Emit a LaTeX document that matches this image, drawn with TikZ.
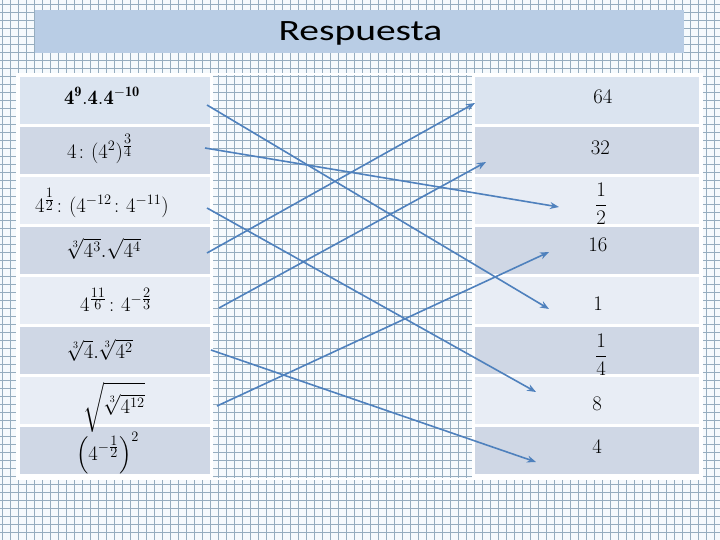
\documentclass[tikz,border=0pt]{standalone}
\usepackage{amsmath}
\usepackage{fontspec}
\newfontfamily\titlefont[FakeStretch=1.34]{Carlito}
\usetikzlibrary{arrows.meta}
\definecolor{gridc}{RGB}{150,173,191}
\definecolor{pagebg}{RGB}{246,250,253}
\definecolor{titlebg}{RGB}{185,205,229}
\definecolor{rowA}{RGB}{219,228,240}
\definecolor{rowB}{RGB}{207,215,229}
\definecolor{rowC}{RGB}{232,237,245}
\definecolor{arrowc}{RGB}{79,129,189}
\begin{document}
\begin{tikzpicture}[x=1pt,y=-1pt,
  cellL/.style={minimum width=190pt,minimum height=47pt,inner sep=0pt,draw=none},
  cellR/.style={minimum width=224pt,minimum height=47pt,inner sep=0pt,draw=none},
  txt/.style={inner sep=0pt,font=\fontsize{20.5}{24}\selectfont},
  link/.style={arrowc,line width=1.6pt,-{Stealth[length=9pt,width=7pt]}}]
\useasboundingbox (0,0) rectangle (720,540);
\fill[pagebg] (0,0) rectangle (720,540);
\foreach \x in {2.5,10.5,...,720} \draw[gridc,line width=1.1pt] (\x,0) -- (\x,540);
\foreach \y in {4.5,12.5,...,540} \draw[gridc,line width=1.1pt] (0,\y) -- (720,\y);
% title
\node[fill=titlebg,minimum width=649pt,minimum height=43pt,inner sep=0pt,anchor=north west] (titlebox) at (35,10) {};
\node[inner sep=0pt,anchor=base,font=\titlefont\fontsize{29.5}{34}\selectfont] (title) at (360.5,40.7) {Respuesta};
% table frame
\draw[white,line width=2pt] (17,74) rectangle (702,479);
\fill[white] (17,74) rectangle (213,479);
\fill[white] (472,74) rectangle (702,479);
% left cells
\node[cellL,fill=rowA] (L1) at (115,100.5) {};
\node[cellL,fill=rowB] (L2) at (115,150.5) {};
\node[cellL,fill=rowC] (L3) at (115,200.5) {};
\node[cellL,fill=rowB] (L4) at (115,250.5) {};
\node[cellL,fill=rowC] (L5) at (115,300.5) {};
\node[cellL,fill=rowB] (L6) at (115,350.5) {};
\node[cellL,fill=rowC] (L7) at (115,400.5) {};
\node[cellL,fill=rowB] (L8) at (115,450.5) {};
% right cells
\node[cellR,fill=rowA] (R1) at (587,100.5) {};
\node[cellR,fill=rowB] (R2) at (587,150.5) {};
\node[cellR,fill=rowC] (R3) at (587,200.5) {};
\node[cellR,fill=rowB] (R4) at (587,250.5) {};
\node[cellR,fill=rowC] (R5) at (587,300.5) {};
\node[cellR,fill=rowB] (R6) at (587,350.5) {};
\node[cellR,fill=rowC] (R7) at (587,400.5) {};
\node[cellR,fill=rowB] (R8) at (587,450.5) {};
% left texts
\node[txt] (L1t) at (102,96) {$\mathbf{4}^{\mathbf{9}}.\mathbf{4}.\mathbf{4}^{-\mathbf{10}}$};
\node[txt] (L2t) at (100,149) {$4\colon(4^{2})^{\frac{\scriptstyle 3}{\scriptstyle 4}}$};
\node[txt] (L3t) at (102,203) {$4^{\frac{\scriptstyle 1}{\scriptstyle 2}}\colon(4^{-12}\colon4^{-11})$};
\node[txt] (L4t) at (104,249) {$\sqrt[3]{4^{3}}.\sqrt{4^{4}}$};
\node[txt] (L5t) at (116,300) {$4^{\frac{\scriptstyle 11}{\scriptstyle 6}}\colon4^{-\frac{\scriptstyle 2}{\scriptstyle 3}}$};
\node[txt] (L6t) at (100,350) {$\sqrt[3]{4}.\sqrt[3]{4^{2}}$};
\node[txt] (L7t) at (114,407) {$\sqrt{\vphantom{\Big|}\sqrt[3]{4^{12}}}$};
\node[txt] (L8t) at (107.5,453) {$\left(4^{-\frac{\scriptstyle 1}{\scriptstyle 2}}\right)^{2}$};
% right texts
\node[txt] (R1t) at (603,97) {$64$};
\node[txt] (R2t) at (600.5,147.5) {$32$};
\node[txt] (R3t) at (601,204) {$\dfrac{1}{2}$};
\node[txt] (R4t) at (598,245) {$16$};
\node[txt] (R5t) at (598,303.5) {$1$};
\node[txt] (R6t) at (601,355) {$\dfrac{1}{4}$};
\node[txt] (R7t) at (597,403.5) {$8$};
\node[txt] (R8t) at (597,446.5) {$4$};
% arrow endpoints
\coordinate (a1s) at (207,105); \coordinate (a1e) at (549,309);
\coordinate (a2s) at (205,148); \coordinate (a2e) at (559,207);
\coordinate (a3s) at (207,208); \coordinate (a3e) at (536,392);
\coordinate (a4s) at (207,253); \coordinate (a4e) at (475,103);
\coordinate (a5s) at (219,308); \coordinate (a5e) at (486,162);
\coordinate (a6s) at (211,350); \coordinate (a6e) at (536,462);
\coordinate (a7s) at (217,406); \coordinate (a7e) at (549,252);
\draw[link] (a1s) -- (a1e);
\draw[link] (a2s) -- (a2e);
\draw[link] (a3s) -- (a3e);
\draw[link] (a4s) -- (a4e);
\draw[link] (a5s) -- (a5e);
\draw[link] (a6s) -- (a6e);
\draw[link] (a7s) -- (a7e);
\end{tikzpicture}
\end{document}
